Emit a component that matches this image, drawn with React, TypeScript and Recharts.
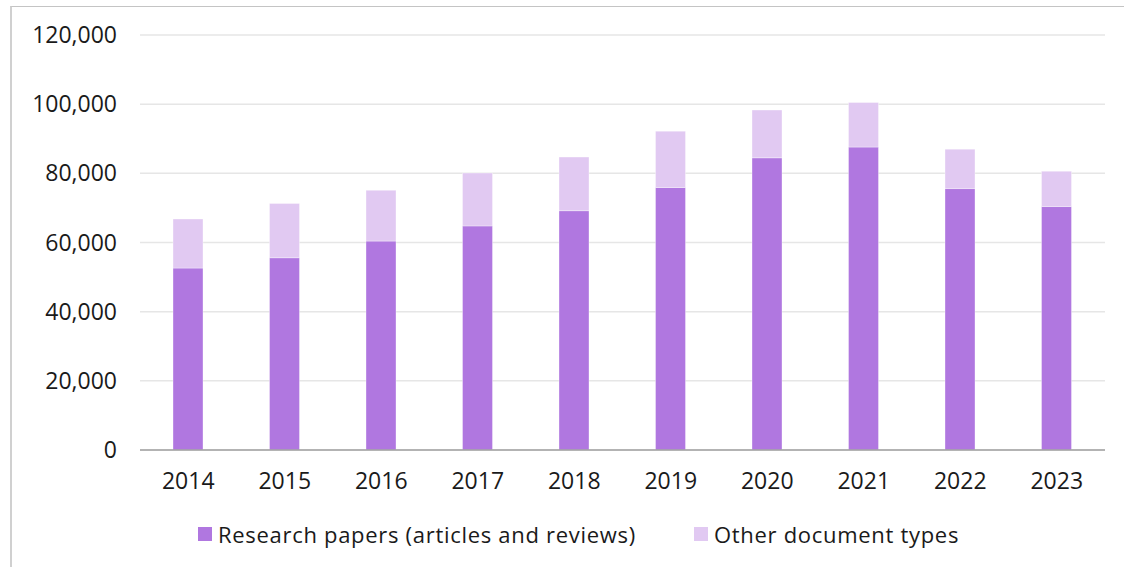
import React from "react";
import {
  BarChart,
  Bar,
  XAxis,
  YAxis,
  CartesianGrid,
  Legend,
} from "recharts";

const years = ["2014", "2015", "2016", "2017", "2018", "2019", "2020", "2021", "2022", "2023"];
const researchPapers = [52600, 55600, 60400, 64800, 69200, 75900, 84500, 87600, 75600, 70400];
const otherTypes = [14200, 15700, 14700, 15300, 15500, 16300, 13800, 12900, 11400, 10200];
const yTicks = [0, 20000, 40000, 60000, 80000, 100000, 120000];

const RESEARCH_LABEL = "Research papers (articles and reviews)";
const OTHER_LABEL = "Other document types";
const RESEARCH_COLOR = "#b077e0";
const OTHER_COLOR = "#e1c9f2";
const FONT = "'Open Sans', Lato, sans-serif";

const data = years.map((year, i) => ({
  year,
  research: researchPapers[i],
  other: otherTypes[i],
}));

const legendItems = [
  { label: RESEARCH_LABEL, color: RESEARCH_COLOR },
  { label: OTHER_LABEL, color: OTHER_COLOR },
];

function ChartLegend() {
  return (
    <div
      style={{
        height: 30,
        display: "flex",
        alignItems: "center",
        paddingLeft: 198,
        fontFamily: FONT,
        fontSize: 22,
        letterSpacing: 0.7,
        color: "#1a1a1a",
        whiteSpace: "nowrap",
      }}
    >
      {legendItems.map((item, i) => (
        <div
          key={item.label}
          style={{ display: "flex", alignItems: "center", marginRight: i === 0 ? 58 : 0 }}
        >
          <span
            style={{
              display: "inline-block",
              width: 14,
              height: 14,
              background: item.color,
              marginRight: 6,
            }}
          />
          <span>{item.label}</span>
        </div>
      ))}
    </div>
  );
}

export default function App() {
  return (
    <div
      style={{
        position: "fixed",
        top: 0,
        left: 0,
        width: 1124,
        height: 567,
        background: "#fff",
        overflow: "hidden",
      }}
    >
      {/* frame edges */}
      <div
        style={{
          position: "absolute",
          left: 10,
          top: 6,
          width: 1200,
          height: 600,
          borderTop: "1px solid #c4c4c4",
          borderLeft: "2px solid #d0d0d0",
        }}
      />
      <BarChart
        width={1124}
        height={567}
        data={data}
        margin={{ top: 35, right: 19, left: 0, bottom: 18 }}
        barSize={30}
      >
        <CartesianGrid vertical={false} stroke="#e6e6e6" strokeWidth={1.5} />
        <XAxis
          dataKey="year"
          axisLine={{ stroke: "#a0a0a0", strokeWidth: 1.5 }}
          tickLine={false}
          tickSize={0}
          tickMargin={23}
          height={69}
          tick={{ fontSize: 23, fill: "#1a1a1a", fontFamily: FONT }}
        />
        <YAxis
          domain={[0, 120000]}
          ticks={yTicks}
          axisLine={false}
          tickLine={false}
          tickSize={0}
          tickMargin={23}
          width={140}
          tickFormatter={(v: number) => v.toLocaleString("en-US")}
          tick={{ fontSize: 23, fill: "#1a1a1a", fontFamily: FONT }}
        />
        <Legend verticalAlign="bottom" wrapperStyle={{ left: 0, width: 1124 }} content={() => <ChartLegend />} />
        <Bar
          dataKey="research"
          name={RESEARCH_LABEL}
          stackId="docs"
          fill={RESEARCH_COLOR}
          stroke="#ffffff"
          strokeOpacity={0.35}
          isAnimationActive={false}
        />
        <Bar
          dataKey="other"
          name={OTHER_LABEL}
          stackId="docs"
          fill={OTHER_COLOR}
          stroke="#ffffff"
          strokeOpacity={0.35}
          isAnimationActive={false}
        />
      </BarChart>
    </div>
  );
}
